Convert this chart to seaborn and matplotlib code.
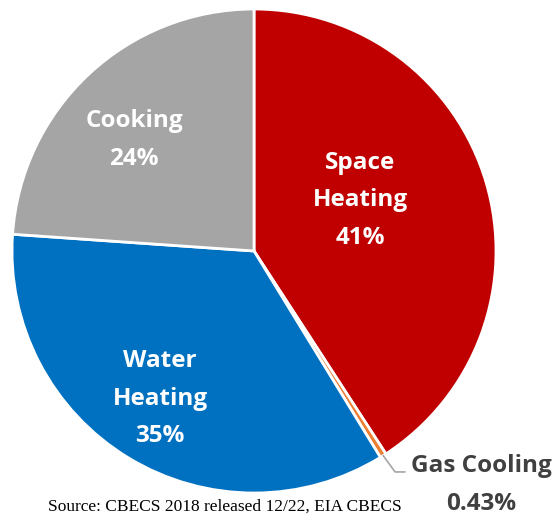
import matplotlib
matplotlib.use("Agg")
import matplotlib.pyplot as plt
import seaborn as sns
import numpy as np

# datos
categories = ["Space\nHeating", "Gas Cooling", "Water\nHeating", "Cooking"]
shares = [41, 0.43, 35, 24]
pct_labels = ["41%", "0.43%", "35%", "24%"]
colors = ["#C00000", "#ED7D31", "#0070C0", "#A5A5A5"]

sns.set_theme(style="white")
plt.rcParams['font.family'] = ['Open Sans', 'DejaVu Sans']

fig = plt.figure(figsize=(5.57, 5.16), dpi=100)
ax = fig.add_axes([12/557, 23/516, 484/557, 484/516])

wedges, _ = ax.pie(shares, colors=colors, startangle=90, counterclock=False,
                   wedgeprops=dict(edgecolor="white", linewidth=2))
ax.set_xlim(-1, 1)
ax.set_ylim(-1, 1)
ax.set_aspect("equal")
ax.axis("off")

# etiquetas dentro de las porciones
label_pos = {0: (0.438, 0.21), 2: (-0.388, -0.61), 3: (-0.496, 0.458)}
for i, (x, y) in label_pos.items():
    ax.text(x, y, f"{categories[i]}\n{pct_labels[i]}", ha="center", va="center",
            color="white", fontsize=17.5, fontweight="bold", linespacing=1.75)

# etiqueta externa de Gas Cooling con línea guía
w = wedges[1]
mid = np.deg2rad((w.theta1 + w.theta2) / 2)
x0, y0 = np.cos(mid), np.sin(mid)
ax.plot([x0, 0.583, 0.624], [y0, -0.913, -0.913], color="#A5A5A5", lw=1.2,
        clip_on=False)
ax.text(0.94, -0.888, categories[1], ha="center", va="center", color="#404040",
        fontsize=17.5, fontweight="bold", clip_on=False)
ax.text(0.94, -1.045, pct_labels[1], ha="center", va="center", color="#404040",
        fontsize=17.5, fontweight="bold", clip_on=False)

fig.text(225/557, 0.002, "Source: CBECS 2018 released 12/22, EIA CBECS",
         ha="center", va="bottom", family="Liberation Serif", fontsize=12.5,
         color="black")

fig.savefig("out.png", dpi=100)
